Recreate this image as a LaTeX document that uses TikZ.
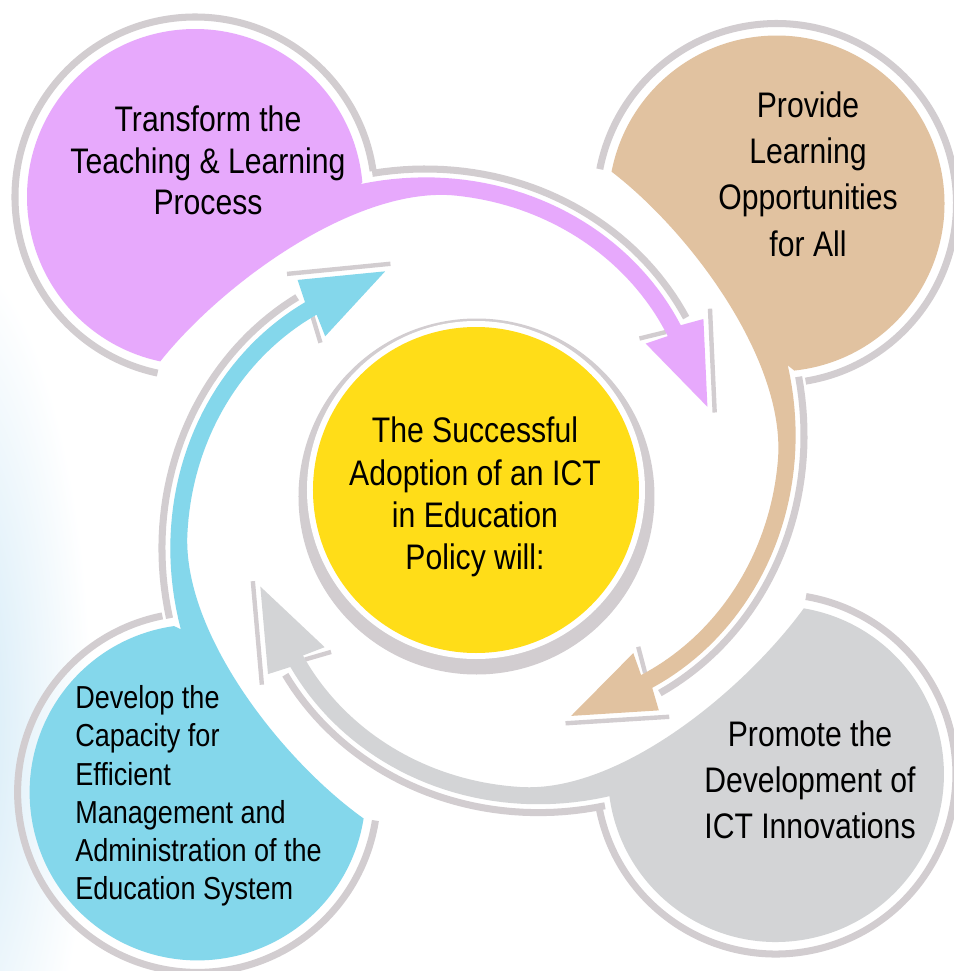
\documentclass[tikz,border=0pt]{standalone}
\usepackage{fontspec}
\setmainfont{Liberation Sans}[FakeStretch=0.85]

\definecolor{pinkfill}{RGB}{231,169,252}
\definecolor{tanfill}{RGB}{225,194,160}
\definecolor{grayfill}{RGB}{211,212,214}
\definecolor{bluefill}{RGB}{132,215,235}
\definecolor{corefill}{RGB}{255,221,24}
\definecolor{rimgray}{RGB}{210,205,208}
\definecolor{edgeblue}{RGB}{203,230,245}

\tikzset{
  rim/.style={draw=rimgray, line width=4pt},
  thinrim/.style={draw=rimgray, line width=2.5pt},
  goaltext/.style={align=center, inner sep=0pt, font=\fontsize{20.2pt}{23.6pt}\selectfont},
}

\begin{document}
\begin{tikzpicture}[x=0.02cm, y=0.02cm]
\useasboundingbox (-482,-479) rectangle (472,492);
\fill[white] (-482,-479) rectangle (472,492);
\shade[inner color=edgeblue, outer color=white] (-540,-230) ellipse[x radius=150, y radius=480];

% four goal shapes, each about a quarter turn from the last
\foreach \rot/\cx/\cy/\col in {0/-287/295/pinkfill, -89/-283.3/299.5/tanfill, -177.6/-281.9/294.1/grayfill, -267/-285.1/299.7/bluefill}{
  \begin{scope}[rotate=\rot]
    \draw[rim] (\cx,\cy) ++(8.3:180) arc[start angle=8.3, end angle=258, radius=180];
    \draw[rim] plot[domain=109:40.5, samples=40, variable=\t] (\t:{228+\t});
    \draw[thinrim] (228,183.3) -- (232.7,79.5);
    \draw[thinrim] (157.5,153.5) -- (184,160);
    \fill[\col] (\cx,\cy) ++(5.07:168) arc[start angle=5.07, end angle=258.07, radius=168]
      .. controls +(62.3,78.3) and +(-99.5,10.3) .. (95:297.5)
      -- plot[domain=95:40, samples=40, variable=\t] (\t:{202.5+\t})
      -- (42.2:221) -- (20.7:241) -- (38:281)
      -- plot[domain=40:111.5, samples=40, variable=\t] (\t:{219.5+\t})
      -- cycle;
  \end{scope}
}

% centre circle
\fill[rimgray] (-5.5,-4.5) circle[radius=178];
\fill[white] (-6,2) circle[radius=169];
\fill[corefill] (-6,2) circle[radius=163];

\node[goaltext, font=\fontsize{20.2pt}{24pt}\selectfont] (core) at (-7,-5)
  {The Successful\\Adoption of an ICT\\in Education\\Policy will:};
\node[goaltext] (transform) at (-274,331.5) {Transform the\\Teaching \& Learning\\Process};
\node[goaltext, font=\fontsize{20.2pt}{26.4pt}\selectfont] (provide) at (326,318)
  {Provide\\Learning\\Opportunities\\for All};
\node[goaltext, font=\fontsize{20.2pt}{26.2pt}\selectfont] (promote) at (328,-288)
  {Promote the\\Development of\\ICT Innovations};
\node[goaltext, align=left, anchor=west, font=\fontsize{18.1pt}{21.8pt}\selectfont] (develop) at (-407,-304)
  {Develop the\\Capacity for\\Efficient\\Management and\\Administration of the\\Education System};
\end{tikzpicture}
\end{document}
